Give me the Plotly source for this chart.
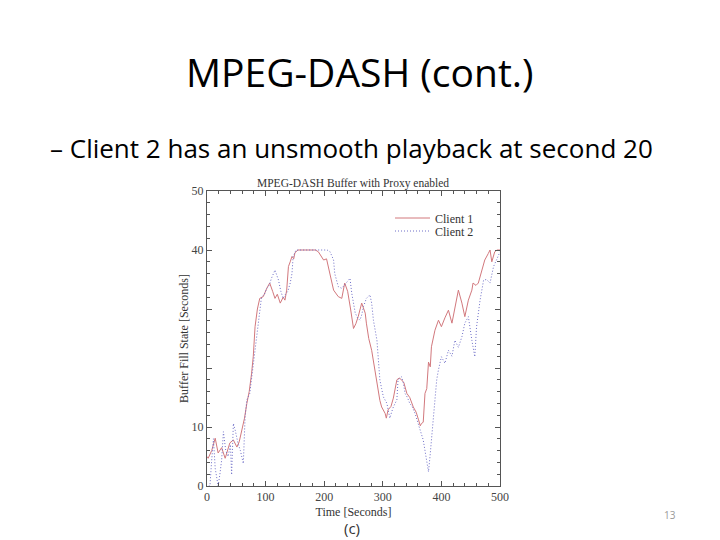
import plotly.graph_objects as go

# ---- data ----
c1_t = [0, 2, 8, 14, 19, 25, 31, 36, 39, 45, 51, 55, 59, 64, 68, 72, 76, 79, 82, 86, 90, 96,
        102, 107, 112, 116, 120, 125, 130, 133, 136, 139, 142, 145, 148, 150, 155, 170, 185,
        190, 195, 199, 204, 210, 216, 224, 230, 235, 240, 245, 250, 254, 258, 264, 270, 272,
        276, 281, 287, 290, 295, 298, 304, 306, 309, 314, 318, 324, 328, 332, 336, 341, 346,
        352, 357, 361, 364, 366, 369, 372, 375, 378, 381, 383, 389, 395, 400, 406, 412, 418,
        423, 429, 435, 440, 446, 452, 454, 459, 463, 469, 474, 480, 483, 486, 491, 495, 500]
c1_v = [5.0, 4.7, 6.0, 8.1, 5.6, 6.5, 4.7, 6.2, 7.3, 7.8, 6.6, 7.5, 9.2, 11.5, 14, 16, 19, 22,
        27, 30, 31.8, 32.1, 33.5, 34.4, 33, 31.8, 32.5, 31, 32, 31.5, 33.2, 37.2, 38, 38.9, 38.5,
        39.5, 40, 40, 40, 39.7, 39, 38.3, 38.5, 36, 33.2, 32.1, 31.8, 34.4, 33, 30, 26.7, 27.5,
        28.7, 31, 29.3, 27.6, 25, 23, 19.5, 17, 14.5, 13.4, 12.3, 11.5, 12.9, 13.5, 14.9, 18,
        18.3, 18, 17.5, 15.7, 15, 13.4, 12.5, 11.2, 10.2, 10.6, 10.8, 15.7, 16.5, 21, 20.2, 23.6,
        26.4, 28.1, 27, 28.5, 29.8, 27.6, 30.4, 33.2, 31, 28.7, 31.5, 33.2, 34.4, 34, 34.4, 36.3,
        38.3, 39.4, 40, 38, 39.7, 40, 40]

c2_t = [3, 5, 8, 11, 14, 19, 22, 25, 28, 32, 36, 40, 42, 45, 48, 53, 57, 59, 62, 65, 68, 73,
        76, 79, 82, 85, 88, 93, 98, 102, 106, 110, 116, 122, 126, 130, 134, 138, 142, 145, 147,
        152, 170, 190, 205, 210, 216, 218, 224, 230, 234, 238, 244, 247, 253, 257, 261, 264,
        267, 272, 278, 281, 284, 290, 293, 295, 298, 301, 307, 312, 315, 318, 324, 326, 332,
        335, 338, 342, 346, 350, 355, 359, 363, 369, 372, 375, 378, 381, 383, 386, 389, 392,
        395, 400, 406, 412, 418, 423, 429, 435, 440, 446, 452, 457, 460, 466, 472, 477, 483,
        489, 494, 500]
c2_v = [0, 0, 4.4, 8, 3, 0, 2, 4.4, 9.2, 6, 5, 7, 1.9, 10.6, 9.5, 7.2, 6, 5, 3.8, 11.7, 14.6,
        15.7, 18, 21, 23, 25, 27.6, 32, 32.5, 33.5, 34, 35.2, 36.6, 34.9, 33, 31.8, 32.5, 33,
        34.4, 36, 38.9, 40, 40, 40, 40, 39.7, 38.3, 36, 33.8, 33.5, 34, 34.4, 35.2, 32.7, 29.3,
        28.5, 28.1, 29, 30.4, 31.8, 32.4, 31, 28.1, 24.7, 20, 18, 16.5, 15.1, 14, 11.5, 12.5,
        13.4, 14.6, 18, 18.5, 17.5, 15.7, 15, 14, 13.5, 12.3, 11, 9.5, 7.8, 6, 4.4, 2.4, 5.5,
        7.8, 10, 14, 18, 19.7, 21.9, 20.8, 23, 22, 24.7, 23.5, 25.3, 27.6, 28.7, 24.7, 21.9, 27,
        31.5, 34.9, 35, 34.4, 37.2, 38.3, 39.7]

x_ticks = [0, 100, 200, 300, 400, 500]
y_ticks = [0, 10, 20, 30, 40, 50]
y_ticktext = ["0", "10", "", "", "40", "50"]

series_names = ["Client 1", "Client 2"]

SERIF = "Liberation Serif"
SANS = "Open Sans"

W, H = 720, 540
OFF = 8  # page body margin offset
L, R, T, B = 207 - OFF, 500 - OFF, 191 - OFF, 486 - OFF
pw, ph = R - L, B - T


def px(x):
    return (x - OFF - L) / pw


def py(y):
    return (B - (y - OFF)) / ph


fig = go.Figure()
fig.add_trace(go.Scatter(x=c1_t, y=c1_v, mode="lines", name=series_names[0], legend="legend",
                         line=dict(color="rgb(210,120,125)", width=1)))
fig.add_trace(go.Scatter(x=c2_t, y=c2_v, mode="lines", name=series_names[1], legend="legend2",
                         line=dict(color="rgb(110,110,200)", width=1, dash="1px,2px")))

axis_common = dict(
    showline=True, linecolor="#555", linewidth=1, mirror="ticks",
    ticks="inside", ticklen=5, tickcolor="#555", showgrid=False, zeroline=False,
    tickfont=dict(family=SERIF, size=12, color="#444"),
)

legend_common = dict(xanchor="left", yanchor="middle", bgcolor="rgba(0,0,0,0)",
                     font=dict(family=SERIF, size=12, color="#333"), itemwidth=35,
                     borderwidth=0)


def ann(text, x, y, family, size, color):
    return dict(text=text, x=px(x), y=py(y), xref="paper", yref="paper", showarrow=False,
                xanchor="center", yanchor="middle",
                font=dict(family=family, size=size, color=color))


fig.update_layout(
    width=W, height=H,
    margin=dict(l=L, r=W - R, t=T, b=H - B, pad=0),
    paper_bgcolor="white", plot_bgcolor="white",
    showlegend=True,
    legend=dict(x=px(390), y=py(218), **legend_common),
    legend2=dict(x=px(390), y=py(231), **legend_common),
    xaxis=dict(range=[0, 500], tickvals=x_ticks, **axis_common,
               minor=dict(dtick=20, ticks="inside", ticklen=3, tickcolor="#555"),
               title=dict(text="Time [Seconds]", font=dict(family=SERIF, size=12, color="#333"),
                          standoff=4)),
    yaxis=dict(range=[0, 50], tickvals=y_ticks, ticktext=y_ticktext, **axis_common,
               minor=dict(dtick=2, ticks="inside", ticklen=3, tickcolor="#555"),
               title=dict(text="Buffer Fill State [Seconds]",
                          font=dict(family=SERIF, size=12, color="#333"), standoff=0)),
    annotations=[
        ann("MPEG-DASH (cont.)", 360, 72, SANS, 39, "black"),
        ann("– Client 2 has an unsmooth playback at second 20", 351, 148, SANS, 26, "black"),
        ann("MPEG-DASH Buffer with Proxy enabled", 353, 183, SERIF, 11.5, "#333"),
        ann("(c)", 352, 528, SANS, 15, "#333"),
        ann("13", 670, 515, SANS, 10, "#999"),
    ],
)

fig.write_html("out.html")
